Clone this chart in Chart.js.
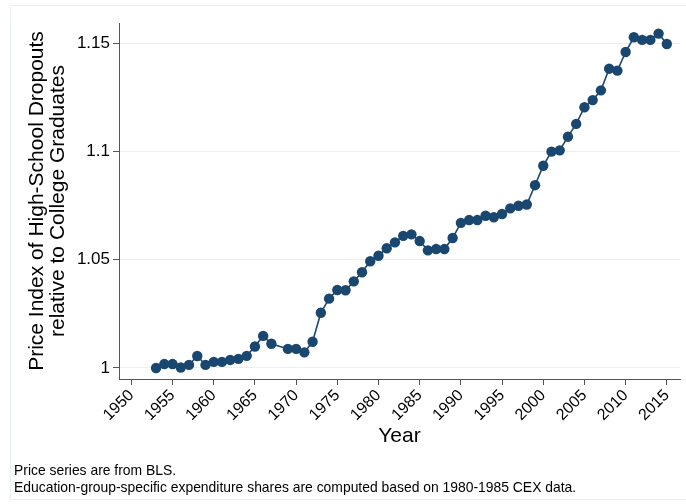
<!DOCTYPE html>
<html>
<head>
<meta charset="utf-8">
<script src="https://cdn.jsdelivr.net/npm/chart.js@4.4.1/dist/chart.umd.min.js"></script>
<style>
  html, body { margin: 0; padding: 0; background: #fff; }
  #wrap { position: relative; width: 686px; height: 504px; }
  #frame { position: absolute; left: 10px; top: 5px; width: 680px; height: 495px; border: 1px solid #eaf1f4; box-sizing: border-box; }
  .note { position: absolute; left: 14px; font: 13.9px "Liberation Sans", Arial, sans-serif; color: #000; line-height: 16px; }
</style>
</head>
<body>
<div id="wrap">
  <div id="frame"></div>
  <canvas id="priceChart" width="686" height="504"></canvas>
  <div class="note" style="top:462px">Price series are from BLS.</div>
  <div class="note" style="top:479px">Education-group-specific expenditure shares are computed based on 1980-1985 CEX data.</div>
</div>
<script>
// Data (1968 is missing in the source series)
const years = [1953, 1954, 1955, 1956, 1957, 1958, 1959, 1960, 1961, 1962, 1963, 1964, 1965, 1966, 1967, 1968,
  1969, 1970, 1971, 1972, 1973, 1974, 1975, 1976, 1977, 1978, 1979, 1980, 1981, 1982, 1983, 1984,
  1985, 1986, 1987, 1988, 1989, 1990, 1991, 1992, 1993, 1994, 1995, 1996, 1997, 1998, 1999, 2000,
  2001, 2002, 2003, 2004, 2005, 2006, 2007, 2008, 2009, 2010, 2011, 2012, 2013, 2014, 2015];
const priceIndex = [1.000, 1.0018, 1.0018, 1.0002, 1.0014, 1.0055, 1.0014, 1.0028, 1.0028, 1.0037, 1.0042, 1.0056, 1.0099, 1.0148, 1.0112, null,
  1.0088, 1.0088, 1.0072, 1.0121, 1.0255, 1.032, 1.036, 1.0359, 1.040, 1.0442, 1.0493, 1.0518, 1.0553, 1.058, 1.061, 1.0617,
  1.0586, 1.0543, 1.0549, 1.0549, 1.060, 1.067, 1.0683, 1.0683, 1.0703, 1.0696, 1.0711, 1.0737, 1.0749, 1.0755, 1.0844, 1.0934,
  1.0999, 1.1005, 1.1068, 1.1127, 1.1204, 1.1237, 1.1282, 1.1382, 1.1373, 1.1459, 1.1527, 1.1515, 1.1515, 1.1544, 1.1496];
const yTicks = [1, 1.05, 1.1, 1.15];
const yTickLabels = ['1', '1.05', '1.1', '1.15'];
const xTicks = [1950, 1955, 1960, 1965, 1970, 1975, 1980, 1985, 1990, 1995, 2000, 2005, 2010, 2015];

const points = years.map((yr, i) => ({ x: yr, y: priceIndex[i] }));
const navy = '#1a476f';
const font = 'Liberation Sans';

const ctx = document.getElementById('priceChart').getContext('2d');
new Chart(ctx, {
  type: 'line',
  data: {
    datasets: [{
      data: points,
      borderColor: navy,
      backgroundColor: navy,
      borderWidth: 1.6,
      pointRadius: 5.2,
      pointHoverRadius: 5.2,
      pointBorderWidth: 0,
      spanGaps: true,
      tension: 0
    }]
  },
  options: {
    responsive: false,
    animation: false,
    layout: { padding: { top: 23, right: 6, bottom: 55, left: 0 } },
    plugins: { legend: { display: false }, tooltip: { enabled: false } },
    scales: {
      x: {
        type: 'linear',
        min: 1948.5,
        max: 2016.6,
        afterBuildTicks: axis => { axis.ticks = xTicks.map(v => ({ value: v })); },
        afterFit: axis => { axis.height = 70; },
        ticks: {
          autoSkip: false,
          maxRotation: 45,
          minRotation: 45,
          color: '#000',
          padding: 1,
          font: { family: font, size: 16 },
          callback: v => String(v)
        },
        grid: { drawOnChartArea: false, tickLength: 6, tickColor: '#555' },
        border: { color: '#555', width: 1 },
        title: { display: true, text: 'Year', color: '#000', font: { family: font, size: 21 }, padding: { top: 0, bottom: 0 } }
      },
      y: {
        min: 0.9949,
        max: 1.1593,
        afterBuildTicks: axis => { axis.ticks = yTicks.map(v => ({ value: v })); },
        afterFit: axis => { axis.width = 119; },
        ticks: {
          color: '#000',
          padding: 3,
          font: { family: font, size: 17 },
          callback: (v) => yTickLabels[yTicks.indexOf(v)] ?? ''
        },
        grid: { color: '#e9f0f3', lineWidth: 1, tickLength: 6, tickColor: '#555' },
        border: { color: '#555', width: 1 },
        title: {
          display: true,
          text: ['Price Index of High-School Dropouts', 'relative to College Graduates'],
          color: '#000',
          font: { family: font, size: 21, lineHeight: 1.0 },
          padding: { top: 27, bottom: 0 }
        }
      }
    }
  }
});
</script>
</body>
</html>
